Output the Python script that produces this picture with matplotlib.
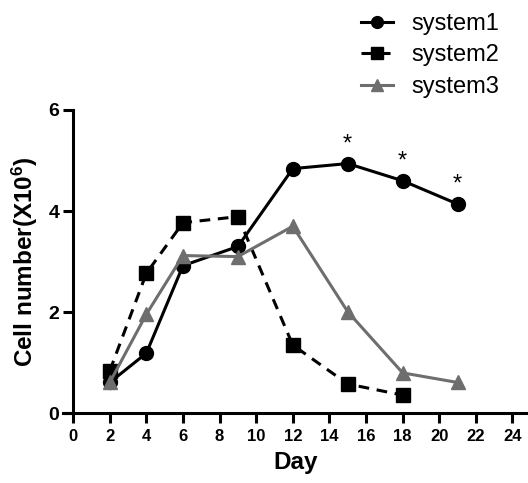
import matplotlib
matplotlib.use('Agg')
import matplotlib.pyplot as plt

plt.rcParams['font.family'] = ['Liberation Sans', 'DejaVu Sans']
plt.rcParams['font.weight'] = 'bold'
plt.rcParams['mathtext.fontset'] = 'custom'
plt.rcParams['mathtext.rm'] = 'Liberation Sans:bold'
plt.rcParams['mathtext.it'] = 'Liberation Sans:bold'
plt.rcParams['mathtext.bf'] = 'Liberation Sans:bold'

# dane
dni1 = [2, 4, 6, 9, 12, 15, 18, 21]
system1 = [0.61, 1.19, 2.92, 3.30, 4.84, 4.94, 4.60, 4.14]
dni2 = [2, 4, 6, 9, 12, 15, 18]
system2 = [0.84, 2.77, 3.77, 3.89, 1.35, 0.58, 0.36]
dni3 = [2, 4, 6, 9, 12, 15, 18, 21]
system3 = [0.61, 1.96, 3.12, 3.10, 3.70, 2.01, 0.80, 0.61]
gwiazdki = [15, 18, 21]

fig = plt.figure(figsize=(5.28, 4.83), dpi=100)
ax = fig.add_axes([0.1195, 0.1443, 0.8805, 0.628])

szary = '#6e6e6e'
ax.plot(dni1, system1, color='black', marker='o', markersize=10, linewidth=2.2,
        label='system1', clip_on=False, zorder=3)
ax.plot(dni2, system2, color='black', marker='s', markersize=9.5, linewidth=2.2,
        linestyle=(0, (3.5, 2.5)), label='system2', clip_on=False, zorder=3)
ax.plot(dni3, system3, color=szary, marker='^', markersize=10.5, linewidth=2.2,
        label='system3', clip_on=False, zorder=3)

for d in gwiazdki:
    y = system1[dni1.index(d)]
    ax.annotate('*', (d, y), xytext=(0, 6), textcoords='offset points',
                ha='center', va='bottom', fontsize=17, fontweight='normal')

ax.set_xlim(-0.55, 24.85)
ax.set_ylim(0, 6)
ax.set_xticks(range(0, 25, 2))
ax.set_yticks([0, 2, 4, 6])
ax.spines['left'].set_position(('data', 0))
ax.spines['top'].set_visible(False)
ax.spines['right'].set_visible(False)
for s in ['left', 'bottom']:
    ax.spines[s].set_linewidth(2.2)
ax.tick_params(axis='x', length=7, width=2.2, labelsize=12, pad=4)
ax.tick_params(axis='y', length=7, width=2.2, labelsize=14, pad=3)

ax.set_xlabel('Day', fontsize=17.5, fontweight='bold', labelpad=5)
ax.set_ylabel(r'Cell number(X10$^{6}$)', fontsize=17.5, fontweight='bold', labelpad=6)

fig.legend(loc='upper right', bbox_to_anchor=(0.986, 1.017), frameon=False,
           prop={'size': 17, 'weight': 'normal'}, handlelength=1.35,
           labelspacing=0.4, handletextpad=0.8, markerscale=0.85)

fig.savefig('out.png', dpi=100)
